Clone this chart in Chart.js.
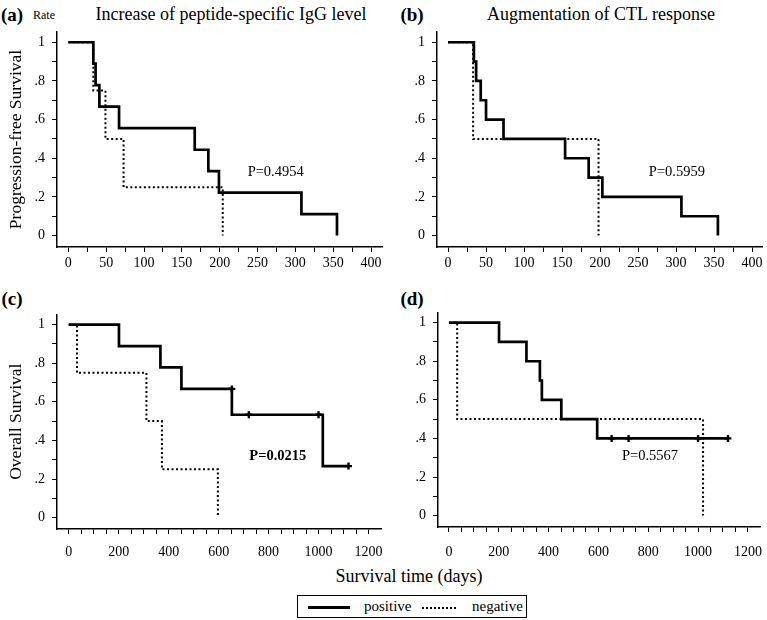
<!DOCTYPE html>
<html>
<head>
<meta charset="utf-8">
<script src="https://cdn.jsdelivr.net/npm/chart.js@4.4.0/dist/chart.umd.min.js"></script>
<style>
    body { margin: 0; width: 767px; height: 620px; background: #fff; position: relative; overflow: hidden;
           font-family: "Liberation Serif", "Times New Roman", Times, "DejaVu Serif", serif; color: #000; }
    canvas { position: absolute; }
    .txt { position: absolute; white-space: nowrap; line-height: 1; transform: translate(-50%, -50%); }
    .tag { font-weight: bold; font-size: 19px; }
    .title { font-size: 18px; }
    #legend { position: absolute; left: 297px; top: 595px; width: 228px; height: 21px; border: 1px solid #000;
              font-size: 15px; }
    #legend span { position: absolute; top: 2px; }
    .solid { position: absolute; left: 10px; top: 10px; width: 42px; border-top: 3px solid #000; }
    .dots { position: absolute; left: 124px; top: 11px; width: 34px; border-top: 2px dotted #000; }
</style>
</head>
<body>
<div class="txt tag" style="left:12px; top:14px;">(a)</div>
<div class="txt" style="left:44px; top:15px; font-size:12px;">Rate</div>
<div class="txt title" style="left:231px; top:14px;">Increase of peptide-specific IgG level</div>
<div class="txt tag" style="left:412px; top:14px;">(b)</div>
<div class="txt title" style="left:601px; top:14px;">Augmentation of CTL response</div>
<div class="txt tag" style="left:12px; top:298px;">(c)</div>
<div class="txt tag" style="left:412px; top:298px;">(d)</div>
<div class="txt title" style="left:409px; top:576px;">Survival time (days)</div>
<div id="legend">
    <div class="solid"></div><span style="left:66px;">positive</span>
    <div class="dots"></div><span style="left:174px;">negative</span>
</div>

<canvas id="chartA" width="392" height="245" style="left:0px; top:27px;"></canvas>
<canvas id="chartB" width="375" height="245" style="left:392px; top:27px;"></canvas>
<canvas id="chartC" width="392" height="260" style="left:0px; top:308px;"></canvas>
<canvas id="chartD" width="375" height="262" style="left:392px; top:306px;"></canvas>

<script>
// (a) progression-free survival by IgG response
const pfsIggPosTimes = [0, 33, 36, 41, 67, 167, 185, 199, 308, 355];
const pfsIggPosSurv  = [1, 0.889, 0.778, 0.667, 0.556, 0.444, 0.333, 0.222, 0.111, 0];
const pfsIggNegTimes = [0, 33, 49, 73, 204];
const pfsIggNegSurv  = [1, 0.75, 0.5, 0.25, 0];

// (b) progression-free survival by CTL response
const pfsCtlPosTimes = [0, 34, 37, 43, 50, 73, 154, 185, 203, 307, 355];
const pfsCtlPosSurv  = [1, 0.9, 0.8, 0.7, 0.6, 0.5, 0.4, 0.3, 0.2, 0.1, 0];
const pfsCtlNegTimes = [0, 33, 198];
const pfsCtlNegSurv  = [1, 0.5, 0];

// (c) overall survival by IgG response
const osIggPosTimes = [0, 201, 367, 451, 653, 1017, 1120];
const osIggPosSurv  = [1, 0.889, 0.778, 0.667, 0.533, 0.267, 0.267];
const osIggCensTimes = [653, 721, 1000, 1120];
const osIggCensSurv  = [0.667, 0.533, 0.533, 0.267];
const osIggNegTimes = [0, 33, 311, 373, 597];
const osIggNegSurv  = [1, 0.75, 0.5, 0.25, 0];

// (d) overall survival by CTL response
const osCtlPosTimes = [0, 201, 311, 365, 373, 451, 595, 1120];
const osCtlPosSurv  = [1, 0.9, 0.8, 0.7, 0.6, 0.5, 0.4, 0.4];
const osCtlCensTimes = [653, 721, 1000, 1120];
const osCtlCensSurv  = [0.4, 0.4, 0.4, 0.4];
const osCtlNegTimes = [0, 33, 1020];
const osCtlNegSurv  = [1, 0.5, 0];

// tick labels
const pfsTickLabels = ["0", "50", "100", "150", "200", "250", "300", "350", "400"];
const osTickLabels  = ["0", "200", "400", "600", "800", "1000", "1200"];
const yTickLabels   = ["0", ".2", ".4", ".6", ".8", "1"];

const FONT = '"Liberation Serif", "Times New Roman", Times, "DejaVu Serif", serif';

function toPoints(xs, ys) {
    return xs.map((x, i) => ({ x: x, y: ys[i] }));
}

// major ticks + evenly spaced minor ones in between
function tickList(labels, parts) {
    const majors = labels.map(Number);
    const list = [];
    for (let i = 0; i < majors.length; i++) {
        list.push(majors[i]);
        if (i < majors.length - 1) {
            const step = (majors[i + 1] - majors[i]) / parts;
            for (let k = 1; k < parts; k++) list.push(majors[i] + k * step);
        }
    }
    return list;
}

// writes the P value inside the plot, placed in data coordinates
const pValuePlugin = {
    id: "pValue",
    afterDatasetsDraw(chart, args, opts) {
        const ctx = chart.ctx;
        ctx.save();
        ctx.font = (opts.bold ? "bold " : "") + "14.5px " + FONT;
        ctx.fillStyle = "#000";
        ctx.textAlign = "center";
        ctx.textBaseline = "middle";
        ctx.fillText(opts.text, chart.scales.x.getPixelForValue(opts.x), chart.scales.y.getPixelForValue(opts.y));
        ctx.restore();
    }
};

function makePanel(id, p) {
    const datasets = [
        {
            label: "negative",
            data: toPoints(p.negTimes, p.negSurv),
            stepped: true,
            borderColor: "#000",
            borderWidth: 2,
            borderDash: [2, 2.5],
            pointRadius: 0
        },
        {
            label: "positive",
            data: toPoints(p.posTimes, p.posSurv),
            stepped: true,
            borderColor: "#000",
            borderWidth: 2.7,
            pointRadius: 0
        }
    ];
    if (p.censTimes) {
        datasets.push({
            label: "censored",
            data: toPoints(p.censTimes, p.censSurv),
            showLine: false,
            pointStyle: "cross",
            pointRadius: 3.5,
            borderWidth: 2.4,
            borderColor: "#000"
        });
    }

    const xTicks = tickList(p.xLabels, p.xParts);
    const yTicks = tickList(yTickLabels, 2);

    new Chart(document.getElementById(id), {
        type: "line",
        data: { datasets: datasets },
        plugins: [pValuePlugin],
        options: {
            responsive: false,
            animation: false,
            events: [],
            layout: { padding: { top: 5, right: p.padRight, left: 0, bottom: 0 } },
            plugins: {
                legend: { display: false },
                tooltip: { enabled: false },
                pValue: { text: p.pText, x: p.pX, y: p.pY, bold: p.pBold }
            },
            scales: {
                x: {
                    type: "linear",
                    min: p.xMin,
                    max: p.xMax,
                    border: { display: true, color: "#000", width: 1.5 },
                    grid: { drawOnChartArea: false, drawTicks: true, tickLength: 5, color: "#000", lineWidth: 1 },
                    afterBuildTicks: scale => { scale.ticks = xTicks.map(v => ({ value: v })); },
                    afterFit: scale => {
                        scale.height = p.xHeight;
                        scale.paddingLeft = 0;
                        scale.paddingRight = 0;
                    },
                    ticks: {
                        autoSkip: false,
                        maxRotation: 0,
                        padding: p.xPad,
                        color: "#000",
                        font: { family: FONT, size: 14 },
                        callback: v => p.xLabels.includes(String(v)) ? String(v) : ""
                    }
                },
                y: {
                    type: "linear",
                    min: -0.059,
                    max: 1.053,
                    border: { display: true, color: "#000", width: 1.5 },
                    grid: { drawOnChartArea: false, drawTicks: true, tickLength: 5, color: "#000", lineWidth: 1 },
                    afterBuildTicks: scale => { scale.ticks = yTicks.map(v => ({ value: v })); },
                    afterFit: scale => {
                        scale.width = p.yWidth;
                        scale.paddingTop = 0;
                        scale.paddingBottom = 0;
                    },
                    title: {
                        display: !!p.yTitle,
                        text: p.yTitle || "",
                        color: "#000",
                        font: { family: FONT, size: 17.5 },
                        padding: { top: 6, bottom: 0 }
                    },
                    ticks: {
                        padding: 7,
                        color: "#000",
                        font: { family: FONT, size: 14 },
                        callback: v => {
                            const idx = Math.round(v * 5);
                            return Math.abs(v * 5 - idx) < 1e-6 ? yTickLabels[idx] : "";
                        }
                    }
                }
            }
        }
    });
}

document.addEventListener("DOMContentLoaded", function () {
    makePanel("chartA", {
        posTimes: pfsIggPosTimes, posSurv: pfsIggPosSurv,
        negTimes: pfsIggNegTimes, negSurv: pfsIggNegSurv,
        xLabels: pfsTickLabels, xParts: 2, xMin: -15, xMax: 414.5,
        yWidth: 57, xHeight: 25, xPad: 3, padRight: 10,
        yTitle: "Progression-free Survival",
        pText: "P=0.4954", pX: 274, pY: 0.33
    });
    makePanel("chartB", {
        posTimes: pfsCtlPosTimes, posSurv: pfsCtlPosSurv,
        negTimes: pfsCtlNegTimes, negSurv: pfsCtlNegSurv,
        xLabels: pfsTickLabels, xParts: 2, xMin: -14.5, xMax: 413,
        yWidth: 45, xHeight: 25, xPad: 3, padRight: 5,
        pText: "P=0.5959", pX: 301, pY: 0.33
    });
    makePanel("chartC", {
        posTimes: osIggPosTimes, posSurv: osIggPosSurv,
        censTimes: osIggCensTimes, censSurv: osIggCensSurv,
        negTimes: osIggNegTimes, negSurv: osIggNegSurv,
        xLabels: osTickLabels, xParts: 4, xMin: -47, xMax: 1250,
        yWidth: 57, xHeight: 39, xPad: 10, padRight: 11,
        yTitle: "Overall Survival",
        pText: "P=0.0215", pX: 837, pY: 0.32, pBold: true
    });
    makePanel("chartD", {
        posTimes: osCtlPosTimes, posSurv: osCtlPosSurv,
        censTimes: osCtlCensTimes, censSurv: osCtlCensSurv,
        negTimes: osCtlNegTimes, negSurv: osCtlNegSurv,
        xLabels: osTickLabels, xParts: 4, xMin: -44, xMax: 1251,
        yWidth: 46, xHeight: 41, xPad: 12, padRight: 5,
        pText: "P=0.5567", pX: 807, pY: 0.31
    });
});
</script>
</body>
</html>
